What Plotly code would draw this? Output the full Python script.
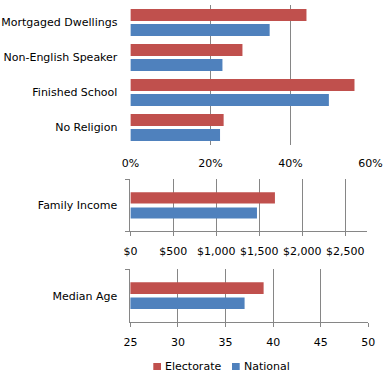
import plotly.graph_objects as go

# ---- data ----
cats_pct = ["Mortgaged Dwellings", "Non-English Speaker", "Finished School", "No Religion"]
elect_pct = [0.44, 0.28, 0.56, 0.233]
nat_pct = [0.348, 0.23, 0.496, 0.224]

cats_inc = ["Family Income"]
elect_inc = [1682]
nat_inc = [1473]

cats_age = ["Median Age"]
elect_age = [39]
nat_age = [37]

series_names = ["Electorate", "National"]
RED = "#C0504D"
BLUE = "#4F81BD"
GRID = "#868686"
FONT = dict(family="DejaVu Sans, sans-serif", size=11, color="#000000")

W, H = 385, 375
def px_x(p): return p / W
def px_y(p): return 1 - p / H

fig = go.Figure()

def add_pair(cats, ev, nv, xa, ya, w, off_e, off_n):
    fig.add_trace(go.Bar(y=cats, x=ev, orientation="h", name=series_names[0],
                         marker=dict(color=RED, line=dict(width=0)),
                         width=w, offset=off_e, xaxis=xa, yaxis=ya,
                         showlegend=False))
    fig.add_trace(go.Bar(y=cats, x=nv, orientation="h", name=series_names[1],
                         marker=dict(color=BLUE, line=dict(width=0)),
                         width=w, offset=off_n, xaxis=xa, yaxis=ya,
                         showlegend=False))

add_pair(cats_pct, elect_pct, nat_pct, "x", "y", 0.34, -0.385, 0.045)
add_pair(cats_inc, elect_inc, nat_inc, "x2", "y2", 0.215, -0.25, 0.04)
add_pair(cats_age, elect_age, nat_age, "x3", "y3", 0.22, -0.255, 0.03)

x0 = px_x(130.4)
common_x = dict(showgrid=True, gridcolor=GRID, gridwidth=1, zeroline=False,
                tickfont=FONT, fixedrange=True, automargin=False)
common_y = dict(type="category", autorange="reversed", showgrid=False,
                tickfont=FONT, fixedrange=True, automargin=False)

# legend drawn as squares + text
shapes = []
annotations = []
legend_items = [(series_names[0], RED, 153.3, 164), (series_names[1], BLUE, 232, 243.3)]
for name, col, sx, tx in legend_items:
    shapes.append(dict(type="rect", xref="paper", yref="paper",
                       x0=px_x(sx), x1=px_x(sx + 7.7), y0=px_y(370), y1=px_y(363),
                       fillcolor=col, line=dict(width=0)))
    annotations.append(dict(text=name, xref="paper", yref="paper", x=px_x(tx - 1),
                            y=px_y(366.5), xanchor="left", yanchor="middle",
                            showarrow=False, font=FONT))

fig.update_layout(
    template="none",
    width=W, height=H, autosize=False,
    margin=dict(l=0, r=0, t=0, b=0, pad=0),
    paper_bgcolor="white", plot_bgcolor="white",
    font=FONT,
    barmode="overlay",
    showlegend=False,
    shapes=shapes,
    annotations=annotations,
    xaxis=dict(domain=[x0, px_x(370.5)], anchor="y", range=[0, 0.6], dtick=0.2,
               tickformat=".0%", showline=False, ticks="", ticklabelstandoff=10,
               **common_x),
    yaxis=dict(domain=[px_y(145), px_y(5)], anchor="x",
               showline=False, ticks="", ticklabelstandoff=12, **common_y),
    xaxis2=dict(domain=[x0, px_x(366.7)], anchor="y2", range=[0, 2750], dtick=500,
                tickprefix="$", tickformat=",d", showline=True, linecolor=GRID,
                ticks="outside", ticklen=4, tickcolor=GRID, ticklabelstandoff=5,
                **common_x),
    yaxis2=dict(domain=[px_y(231.3), px_y(179.3)], anchor="x2",
                showline=True, linecolor=GRID, ticks="outside", ticklen=4,
                tickcolor=GRID, tickson="boundaries", ticklabelstandoff=10, **common_y),
    xaxis3=dict(domain=[x0, px_x(368.3)], anchor="y3", range=[25, 50], dtick=5,
                showline=True, linecolor=GRID, ticks="outside", ticklen=4,
                tickcolor=GRID, ticklabelstandoff=5, **common_x),
    yaxis3=dict(domain=[px_y(322.3), px_y(269.3)], anchor="x3",
                showline=True, linecolor=GRID, ticks="outside", ticklen=4,
                tickcolor=GRID, tickson="boundaries", ticklabelstandoff=10, **common_y),
)

fig.write_html("out.html", config={"displayModeBar": False, "responsive": False},
               post_script=("document.documentElement.style.overflow='hidden';"
                            "document.body.style.overflow='hidden';"
                            "document.body.style.margin='0';"
                            "document.body.style.padding='0';"))
